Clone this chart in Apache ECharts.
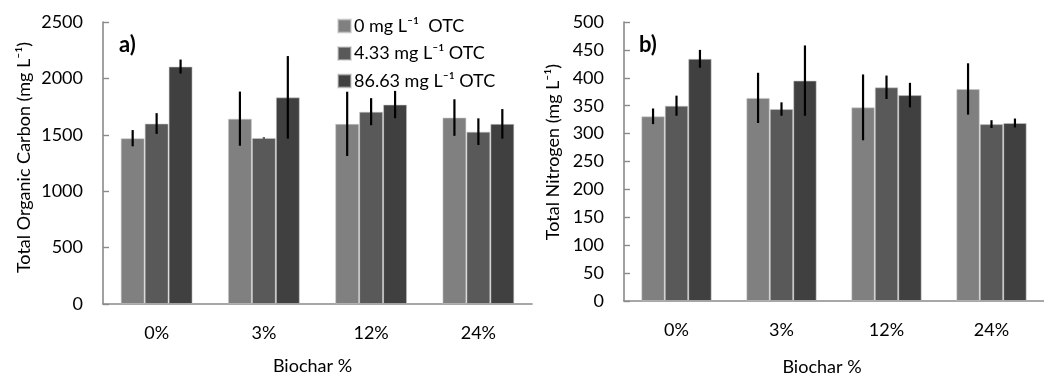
<!DOCTYPE html>
<html>
<head>
<meta charset="utf-8">
<script src="https://cdn.jsdelivr.net/npm/echarts@6/dist/echarts.min.js"></script>
<style>
  html, body { margin: 0; padding: 0; background: #fff; }
  #chart { width: 1044px; height: 376px; }
</style>
</head>
<body>
<div id="chart"></div>
<script>
// Biochar levels on the x axis
const categories = ['0%', '3%', '12%', '24%'];
// Oxytetracycline treatments (series names)
const seriesNames = ['0 mg L\u207B\u00B9  OTC', '4.33 mg L\u207B\u00B9 OTC', '86.63 mg L\u207B\u00B9 OTC'];

// Total organic carbon (mg L-1): means and error half-widths per treatment
const tocOTC0 = [1470, 1643, 1597, 1653];
const tocOTC4 = [1600, 1472, 1705, 1528];
const tocOTC86 = [2105, 1832, 1768, 1597];
const tocErr0 = [72, 240, 285, 162];
const tocErr4 = [92, 5, 120, 118];
const tocErr86 = [62, 366, 121, 131];

// Total nitrogen (mg L-1): means and error half-widths per treatment
const tnOTC0 = [331, 364, 347, 380];
const tnOTC4 = [350, 344, 383, 317];
const tnOTC86 = [434, 395, 369, 319];
const tnErr0 = [14, 45, 59, 46];
const tnErr4 = [18, 12, 21, 7];
const tnErr86 = [16, 63, 22, 8];

const colors = ['#808080', '#595959', '#404040'];
const FONT = 'Lato';
const FS = 18;
const CAT_GAP = 0.33;
const axisGray = '#8a8a8a';

function barSeries(name, data, idx, gridIdx) {
  return {
    name: name,
    type: 'bar',
    xAxisIndex: gridIdx,
    yAxisIndex: gridIdx,
    data: data,
    barGap: '0%',
    barCategoryGap: (CAT_GAP * 100) + '%',
    itemStyle: { color: colors[idx], borderColor: 'rgba(200,200,200,0.55)', borderWidth: 1 },
    emphasis: { disabled: true },
    z: 2
  };
}

// Vertical error bar centred on the matching bar of the group
function errorSeries(means, errs, idx, gridIdx) {
  const data = means.map((m, i) => [i, m - errs[i], m + errs[i]]);
  return {
    type: 'custom',
    xAxisIndex: gridIdx,
    yAxisIndex: gridIdx,
    data: data,
    z: 5,
    silent: true,
    renderItem: function (params, api) {
      const ci = api.value(0);
      const lo = api.coord([ci, api.value(1)]);
      const hi = api.coord([ci, api.value(2)]);
      const band = api.size([1, 0])[0];
      const bw = band * (1 - CAT_GAP) / 3;
      const x = lo[0] + (idx - 1) * bw;
      return {
        type: 'line',
        shape: { x1: x, y1: hi[1], x2: x, y2: lo[1] },
        style: { stroke: '#000', lineWidth: 2.2 }
      };
    }
  };
}

function catAxis(gridIdx) {
  return {
    type: 'category',
    gridIndex: gridIdx,
    data: categories,
    axisLine: { lineStyle: { color: axisGray, width: 1.6 } },
    axisTick: { inside: true, length: 6, lineStyle: { color: axisGray, width: 1.4 } },
    axisLabel: { color: '#000', fontFamily: FONT, fontSize: FS, margin: 20 }
  };
}

function valAxis(gridIdx, max, interval) {
  return {
    type: 'value',
    gridIndex: gridIdx,
    min: 0,
    max: max,
    interval: interval,
    axisLine: { show: true, lineStyle: { color: axisGray, width: 1.6 } },
    axisTick: { show: true, inside: true, length: 6, lineStyle: { color: axisGray, width: 1.4 } },
    splitLine: { show: false },
    axisLabel: { color: '#000', fontFamily: FONT, fontSize: FS, margin: 20, formatter: (v) => String(v) }
  };
}

const textStyle = (extra) => Object.assign({ fill: '#000', fontFamily: FONT, fontSize: FS }, extra);

const option = {
  animation: false,
  backgroundColor: '#fff',
  grid: [
    { left: 103, top: 22, width: 429, height: 282 },
    { left: 624, top: 22, width: 426, height: 279 }
  ],
  legend: {
    orient: 'vertical',
    left: 332,
    top: 12,
    itemWidth: 13,
    itemHeight: 13,
    itemGap: 9.5,
    icon: 'rect',
    data: seriesNames,
    textStyle: { color: '#000', fontFamily: FONT, fontSize: FS, lineHeight: 18, padding: [0, 0, 0, -2] }
  },
  xAxis: [catAxis(0), catAxis(1)],
  yAxis: [valAxis(0, 2500, 500), valAxis(1, 500, 50)],
  series: [
    barSeries(seriesNames[0], tocOTC0, 0, 0),
    barSeries(seriesNames[1], tocOTC4, 1, 0),
    barSeries(seriesNames[2], tocOTC86, 2, 0),
    barSeries(seriesNames[0], tnOTC0, 0, 1),
    barSeries(seriesNames[1], tnOTC4, 1, 1),
    barSeries(seriesNames[2], tnOTC86, 2, 1),
    errorSeries(tocOTC0, tocErr0, 0, 0),
    errorSeries(tocOTC4, tocErr4, 1, 0),
    errorSeries(tocOTC86, tocErr86, 2, 0),
    errorSeries(tnOTC0, tnErr0, 0, 1),
    errorSeries(tnOTC4, tnErr4, 1, 1),
    errorSeries(tnOTC86, tnErr86, 2, 1)
  ],
  graphic: [
    { type: 'text', x: 119, y: 45, style: textStyle({ text: 'a)', fontSize: 22, fontWeight: 'bold', verticalAlign: 'middle' }) },
    { type: 'text', x: 639, y: 45, style: textStyle({ text: 'b)', fontSize: 22, fontWeight: 'bold', verticalAlign: 'middle' }) },
    { type: 'text', x: 24, y: 157.5, rotation: Math.PI / 2,
      style: textStyle({ text: 'Total Organic Carbon (mg L\u207B\u00B9)', align: 'center', verticalAlign: 'middle' }) },
    { type: 'text', x: 553, y: 152, rotation: Math.PI / 2,
      style: textStyle({ text: 'Total Nitrogen (mg L\u207B\u00B9)', align: 'center', verticalAlign: 'middle' }) },
    { type: 'text', x: 312.5, y: 366, style: textStyle({ text: 'Biochar %', align: 'center', verticalAlign: 'middle' }) },
    { type: 'text', x: 822, y: 367, style: textStyle({ text: 'Biochar %', align: 'center', verticalAlign: 'middle' }) }
  ]
};

const chart = echarts.init(document.getElementById('chart'), null, { renderer: 'canvas' });
chart.setOption(option);
</script>
</body>
</html>
